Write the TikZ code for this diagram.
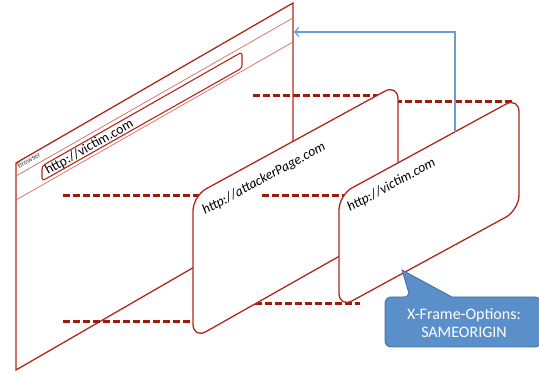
\documentclass[tikz,border=0pt]{standalone}
\usepackage{fontspec}
\setmainfont{Carlito}
\usetikzlibrary{arrows.meta}

\definecolor{framered}{HTML}{B0281C}
\definecolor{linered}{HTML}{D46A60}
\definecolor{dashred}{HTML}{9C1C0C}
\definecolor{linkblue}{HTML}{6C9BD2}
\definecolor{calloutblue}{HTML}{5B8FC9}
\definecolor{calloutedge}{HTML}{41719C}

\begin{document}
\begin{tikzpicture}[
x=1pt, y=-1pt,
frame/.style={draw=framered, line width=1.3pt, fill=white, rounded corners=15pt},
thinline/.style={draw=linered, line width=0.7pt},
proj/.style={draw=dashred, line width=3pt, dash pattern=on 7pt off 3pt},
url/.style={font=\fontsize{13.8}{15}\selectfont\itshape, anchor=base west, inner sep=0pt, rotate=28.5},
link/.style={draw=linkblue, line width=1.2pt, -{Straight Barb[length=4pt,width=9pt]}}
]
\useasboundingbox (0,0) rectangle (539,374);

% browser window
\draw[framered, line width=1.3pt] (16,163) -- (293,3) -- (293,210) -- (16,370) -- cycle;
\draw[thinline] (16,176) -- (293,18);
\draw[thinline] (16,200) -- (293,42);
\draw[framered, line width=1.1pt, rounded corners=3pt] (42,166) -- (242,52) -- (242,68) -- (42,181) -- cycle;
\node[font=\fontsize{7.6}{8}\selectfont, text=black!75, anchor=base west, inner sep=0pt, rotate=30] (browserlbl) at (19,169) {Browser};
\node[font=\fontsize{13.8}{15}\selectfont, anchor=base west, inner sep=0pt, rotate=29.5] (addr) at (48,175) {http://victim.com};

% projection lines behind the frames
\draw[proj] (63,196) -- (215,196);
\draw[proj] (63,322) -- (215,322);
\draw[proj] (253,96) -- (392,96);
\draw[proj] (215,304) -- (360,304);
\draw[proj] (395,102) -- (512,102);

% attacker frame
\coordinate (atl) at (193,196);
\coordinate (atr) at (398,84);
\coordinate (abr) at (398,223);
\coordinate (abl) at (193,339);
\draw[frame] (atl) -- (atr) -- (abr) -- (abl) -- cycle;
\node[url] (attackurl) at (205,215) {http://attackerPage.com};
\draw[proj] (262,196) -- (355,196);

% victim frame
\coordinate (vtl) at (339,195);
\coordinate (vtr) at (519,97);
\coordinate (vbr) at (519,210);
\coordinate (vbl) at (339,308);
\draw[frame] (vtl) -- (vtr) -- (vbr) -- (vbl) -- cycle;
\node[url] (victimurl) at (350,212) {http://victim.com};

% link back to the browser
\coordinate (vtop) at (455,132);
\coordinate (bedge) at (294,32);
\draw[link] (vtop) |- (bedge);

% callout
\draw[calloutedge, fill=calloutblue, line width=0.8pt] (385,322) [rounded corners=6pt] -- (385,297) -- (410,297) [sharp corners] -- (402,270) -- (452,297) [rounded corners=6pt] -- (541,297) -- (541,347) -- (385,347) -- cycle;
\node[text=white, font=\fontsize{16}{17.5}\selectfont, align=center] (xfo) at (464,323) {X-Frame-Options:\\SAMEORIGIN};
\end{tikzpicture}
\end{document}
